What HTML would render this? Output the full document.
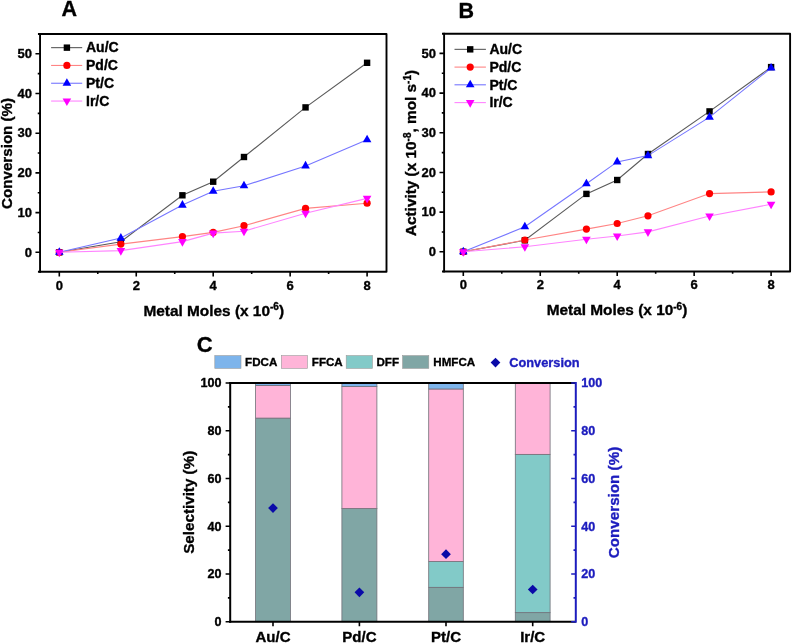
<!DOCTYPE html><html><head><meta charset="utf-8"><style>html,body{margin:0;padding:0;background:#fff;}svg{display:block;will-change:transform;filter:blur(0.3px);}text{font-family:"Liberation Sans", sans-serif;font-weight:bold;stroke-width:0.35px;}</style></head><body>
<svg width="792" height="643" viewBox="0 0 792 643">
<rect width="792" height="643" fill="#fff"/>
<text x="61.4" y="15.6" font-size="21.5" text-anchor="start" fill="#000" stroke="#000">A</text>
<text x="458.6" y="17.6" font-size="21.5" text-anchor="start" fill="#000" stroke="#000">B</text>
<text x="196.8" y="351.9" font-size="22" text-anchor="start" fill="#000" stroke="#000">C</text>
<path d="M37.95 34H386.5V271.8H37.95" fill="none" stroke="#000" stroke-width="1.9" stroke-linejoin="round"/>
<path d="M40.05 33.1V272.7" fill="none" stroke="#000" stroke-width="1.9"/>
<path d="M40.05 252.3H35.45M40.05 232.45H37.75M40.05 212.6H35.45M40.05 192.75H37.75M40.05 172.9H35.45M40.05 153.05H37.75M40.05 133.2H35.45M40.05 113.35H37.75M40.05 93.5H35.45M40.05 73.65H37.75M40.05 53.8H35.45M59.3 271.8V276.4M97.78 271.8V274.1M136.25 271.8V276.4M174.73 271.8V274.1M213.2 271.8V276.4M251.68 271.8V274.1M290.15 271.8V276.4M328.62 271.8V274.1M367.1 271.8V276.4" stroke="#000" stroke-width="1.6" fill="none"/>
<text x="32" y="256.5" font-size="13" text-anchor="end" fill="#000" stroke="#000">0</text>
<text x="32" y="216.8" font-size="13" text-anchor="end" fill="#000" stroke="#000">10</text>
<text x="32" y="177.1" font-size="13" text-anchor="end" fill="#000" stroke="#000">20</text>
<text x="32" y="137.4" font-size="13" text-anchor="end" fill="#000" stroke="#000">30</text>
<text x="32" y="97.7" font-size="13" text-anchor="end" fill="#000" stroke="#000">40</text>
<text x="32" y="58" font-size="13" text-anchor="end" fill="#000" stroke="#000">50</text>
<text x="59.3" y="290.3" font-size="13" text-anchor="middle" fill="#000" stroke="#000">0</text>
<text x="136.25" y="290.3" font-size="13" text-anchor="middle" fill="#000" stroke="#000">2</text>
<text x="213.2" y="290.3" font-size="13" text-anchor="middle" fill="#000" stroke="#000">4</text>
<text x="290.15" y="290.3" font-size="13" text-anchor="middle" fill="#000" stroke="#000">6</text>
<text x="367.1" y="290.3" font-size="13" text-anchor="middle" fill="#000" stroke="#000">8</text>
<text x="213.7" y="315.9" font-size="15.4" text-anchor="middle" stroke="#000">Metal Moles (x 10<tspan font-size="10" dy="-5.5">-6</tspan><tspan dy="5.5">)</tspan></text>
<text transform="translate(12 153.4) rotate(-90)" font-size="15.15" text-anchor="middle" stroke="#000">Conversion (%)</text>
<polyline points="59.3,252.3 120.86,241.7 182.42,195.3 213.2,181.7 243.98,157 305.54,107.4 367.1,62.8" fill="none" stroke="#5a5a5a" stroke-width="1.1"/>
<rect x="56.1" y="249.1" width="6.4" height="6.4" fill="#000000"/>
<rect x="117.66" y="238.5" width="6.4" height="6.4" fill="#000000"/>
<rect x="179.22" y="192.1" width="6.4" height="6.4" fill="#000000"/>
<rect x="210" y="178.5" width="6.4" height="6.4" fill="#000000"/>
<rect x="240.78" y="153.8" width="6.4" height="6.4" fill="#000000"/>
<rect x="302.34" y="104.2" width="6.4" height="6.4" fill="#000000"/>
<rect x="363.9" y="59.6" width="6.4" height="6.4" fill="#000000"/>
<polyline points="59.3,252.3 120.86,244.1 182.42,236.6 213.2,232.4 243.98,225.7 305.54,208.4 367.1,203.2" fill="none" stroke="#ff8484" stroke-width="1.1"/>
<circle cx="59.3" cy="252.3" r="3.6" fill="#ff0000"/>
<circle cx="120.86" cy="244.1" r="3.6" fill="#ff0000"/>
<circle cx="182.42" cy="236.6" r="3.6" fill="#ff0000"/>
<circle cx="213.2" cy="232.4" r="3.6" fill="#ff0000"/>
<circle cx="243.98" cy="225.7" r="3.6" fill="#ff0000"/>
<circle cx="305.54" cy="208.4" r="3.6" fill="#ff0000"/>
<circle cx="367.1" cy="203.2" r="3.6" fill="#ff0000"/>
<polyline points="59.3,252.3 120.86,238.1 182.42,205.1 213.2,191.3 243.98,185.8 305.54,165.9 367.1,139.8" fill="none" stroke="#7676ff" stroke-width="1.1"/>
<polygon points="59.3,247.23 63.6,254.83 55,254.83" fill="#0000ff"/>
<polygon points="120.86,233.03 125.16,240.63 116.56,240.63" fill="#0000ff"/>
<polygon points="182.42,200.03 186.72,207.63 178.12,207.63" fill="#0000ff"/>
<polygon points="213.2,186.23 217.5,193.83 208.9,193.83" fill="#0000ff"/>
<polygon points="243.98,180.73 248.28,188.33 239.68,188.33" fill="#0000ff"/>
<polygon points="305.54,160.83 309.84,168.43 301.24,168.43" fill="#0000ff"/>
<polygon points="367.1,134.73 371.4,142.33 362.8,142.33" fill="#0000ff"/>
<polyline points="59.3,252.3 120.86,250.6 182.42,241.6 213.2,233.1 243.98,231.2 305.54,213.2 367.1,198.4" fill="none" stroke="#ff84ff" stroke-width="1.1"/>
<polygon points="55,249.77 63.6,249.77 59.3,257.37" fill="#ff00ff"/>
<polygon points="116.56,248.07 125.16,248.07 120.86,255.67" fill="#ff00ff"/>
<polygon points="178.12,239.07 186.72,239.07 182.42,246.67" fill="#ff00ff"/>
<polygon points="208.9,230.57 217.5,230.57 213.2,238.17" fill="#ff00ff"/>
<polygon points="239.68,228.67 248.28,228.67 243.98,236.27" fill="#ff00ff"/>
<polygon points="301.24,210.67 309.84,210.67 305.54,218.27" fill="#ff00ff"/>
<polygon points="362.8,195.87 371.4,195.87 367.1,203.47" fill="#ff00ff"/>
<path d="M51.1 47.65H82.2" stroke="#5a5a5a" stroke-width="1.1"/>
<rect x="63.7" y="44.45" width="6.4" height="6.4" fill="#000000"/>
<text x="86" y="52.35" font-size="14" text-anchor="start" fill="#000" stroke="#000">Au/C</text>
<path d="M51.1 65.45H82.2" stroke="#ff8484" stroke-width="1.1"/>
<circle cx="66.9" cy="65.45" r="3.6" fill="#ff0000"/>
<text x="86" y="70.15" font-size="14" text-anchor="start" fill="#000" stroke="#000">Pd/C</text>
<path d="M51.1 83.25H82.2" stroke="#7676ff" stroke-width="1.1"/>
<polygon points="66.9,78.18 71.2,85.78 62.6,85.78" fill="#0000ff"/>
<text x="86" y="87.95" font-size="14" text-anchor="start" fill="#000" stroke="#000">Pt/C</text>
<path d="M51.1 101.05H82.2" stroke="#ff84ff" stroke-width="1.1"/>
<polygon points="62.6,98.52 71.2,98.52 66.9,106.12" fill="#ff00ff"/>
<text x="86" y="105.75" font-size="14" text-anchor="start" fill="#000" stroke="#000">Ir/C</text>
<path d="M442 33.7H790.1V271.5H442" fill="none" stroke="#000" stroke-width="1.9" stroke-linejoin="round"/>
<path d="M444.1 32.8V272.4" fill="none" stroke="#000" stroke-width="1.9"/>
<path d="M444.1 251.8H439.5M444.1 231.96H441.8M444.1 212.12H439.5M444.1 192.28H441.8M444.1 172.44H439.5M444.1 152.6H441.8M444.1 132.76H439.5M444.1 112.92H441.8M444.1 93.08H439.5M444.1 73.24H441.8M444.1 53.4H439.5M463.3 271.5V276.1M501.78 271.5V273.8M540.25 271.5V276.1M578.73 271.5V273.8M617.2 271.5V276.1M655.67 271.5V273.8M694.15 271.5V276.1M732.62 271.5V273.8M771.1 271.5V276.1" stroke="#000" stroke-width="1.6" fill="none"/>
<text x="436" y="256" font-size="13" text-anchor="end" fill="#000" stroke="#000">0</text>
<text x="436" y="216.32" font-size="13" text-anchor="end" fill="#000" stroke="#000">10</text>
<text x="436" y="176.64" font-size="13" text-anchor="end" fill="#000" stroke="#000">20</text>
<text x="436" y="136.96" font-size="13" text-anchor="end" fill="#000" stroke="#000">30</text>
<text x="436" y="97.28" font-size="13" text-anchor="end" fill="#000" stroke="#000">40</text>
<text x="436" y="57.6" font-size="13" text-anchor="end" fill="#000" stroke="#000">50</text>
<text x="463.3" y="289.4" font-size="13" text-anchor="middle" fill="#000" stroke="#000">0</text>
<text x="540.25" y="289.4" font-size="13" text-anchor="middle" fill="#000" stroke="#000">2</text>
<text x="617.2" y="289.4" font-size="13" text-anchor="middle" fill="#000" stroke="#000">4</text>
<text x="694.15" y="289.4" font-size="13" text-anchor="middle" fill="#000" stroke="#000">6</text>
<text x="771.1" y="289.4" font-size="13" text-anchor="middle" fill="#000" stroke="#000">8</text>
<text x="617" y="315.3" font-size="15.4" text-anchor="middle" stroke="#000">Metal Moles (x 10<tspan font-size="10" dy="-5.5">-6</tspan><tspan dy="5.5">)</tspan></text>
<text transform="translate(416 153) rotate(-90)" font-size="15.35" text-anchor="middle" stroke="#000">Activity (x 10<tspan font-size="10" dy="-5.5">-8</tspan><tspan dy="5.5">, mol s</tspan><tspan font-size="10" dy="-5.5">-1</tspan><tspan dy="5.5">)</tspan></text>
<polyline points="463.3,251.8 524.86,240.3 586.42,193.9 617.2,180 647.98,154 709.54,111.4 771.1,67.1" fill="none" stroke="#5a5a5a" stroke-width="1.1"/>
<rect x="460.1" y="248.6" width="6.4" height="6.4" fill="#000000"/>
<rect x="521.66" y="237.1" width="6.4" height="6.4" fill="#000000"/>
<rect x="583.22" y="190.7" width="6.4" height="6.4" fill="#000000"/>
<rect x="614" y="176.8" width="6.4" height="6.4" fill="#000000"/>
<rect x="644.78" y="150.8" width="6.4" height="6.4" fill="#000000"/>
<rect x="706.34" y="108.2" width="6.4" height="6.4" fill="#000000"/>
<rect x="767.9" y="63.9" width="6.4" height="6.4" fill="#000000"/>
<polyline points="463.3,251.8 524.86,240 586.42,229.1 617.2,223.5 647.98,215.8 709.54,193.6 771.1,191.9" fill="none" stroke="#ff8484" stroke-width="1.1"/>
<circle cx="463.3" cy="251.8" r="3.6" fill="#ff0000"/>
<circle cx="524.86" cy="240" r="3.6" fill="#ff0000"/>
<circle cx="586.42" cy="229.1" r="3.6" fill="#ff0000"/>
<circle cx="617.2" cy="223.5" r="3.6" fill="#ff0000"/>
<circle cx="647.98" cy="215.8" r="3.6" fill="#ff0000"/>
<circle cx="709.54" cy="193.6" r="3.6" fill="#ff0000"/>
<circle cx="771.1" cy="191.9" r="3.6" fill="#ff0000"/>
<polyline points="463.3,251.8 524.86,226.8 586.42,183.8 617.2,161.9 647.98,155.6 709.54,117.1 771.1,68" fill="none" stroke="#7676ff" stroke-width="1.1"/>
<polygon points="463.3,246.73 467.6,254.33 459,254.33" fill="#0000ff"/>
<polygon points="524.86,221.73 529.16,229.33 520.56,229.33" fill="#0000ff"/>
<polygon points="586.42,178.73 590.72,186.33 582.12,186.33" fill="#0000ff"/>
<polygon points="617.2,156.83 621.5,164.43 612.9,164.43" fill="#0000ff"/>
<polygon points="647.98,150.53 652.28,158.13 643.68,158.13" fill="#0000ff"/>
<polygon points="709.54,112.03 713.84,119.63 705.24,119.63" fill="#0000ff"/>
<polygon points="771.1,62.93 775.4,70.53 766.8,70.53" fill="#0000ff"/>
<polyline points="463.3,251.8 524.86,246.7 586.42,239.3 617.2,236 647.98,231.9 709.54,216 771.1,204.3" fill="none" stroke="#ff84ff" stroke-width="1.1"/>
<polygon points="459,249.27 467.6,249.27 463.3,256.87" fill="#ff00ff"/>
<polygon points="520.56,244.17 529.16,244.17 524.86,251.77" fill="#ff00ff"/>
<polygon points="582.12,236.77 590.72,236.77 586.42,244.37" fill="#ff00ff"/>
<polygon points="612.9,233.47 621.5,233.47 617.2,241.07" fill="#ff00ff"/>
<polygon points="643.68,229.37 652.28,229.37 647.98,236.97" fill="#ff00ff"/>
<polygon points="705.24,213.47 713.84,213.47 709.54,221.07" fill="#ff00ff"/>
<polygon points="766.8,201.77 775.4,201.77 771.1,209.37" fill="#ff00ff"/>
<path d="M454.5 49.35H485.9" stroke="#5a5a5a" stroke-width="1.1"/>
<rect x="467" y="46.15" width="6.4" height="6.4" fill="#000000"/>
<text x="489.4" y="54.15" font-size="14" text-anchor="start" fill="#000" stroke="#000">Au/C</text>
<path d="M454.5 67.1H485.9" stroke="#ff8484" stroke-width="1.1"/>
<circle cx="470.2" cy="67.1" r="3.6" fill="#ff0000"/>
<text x="489.4" y="71.9" font-size="14" text-anchor="start" fill="#000" stroke="#000">Pd/C</text>
<path d="M454.5 84.8H485.9" stroke="#7676ff" stroke-width="1.1"/>
<polygon points="470.2,79.73 474.5,87.33 465.9,87.33" fill="#0000ff"/>
<text x="489.4" y="89.6" font-size="14" text-anchor="start" fill="#000" stroke="#000">Pt/C</text>
<path d="M454.5 102.6H485.9" stroke="#ff84ff" stroke-width="1.1"/>
<polygon points="465.9,100.07 474.5,100.07 470.2,107.67" fill="#ff00ff"/>
<text x="489.4" y="107.4" font-size="14" text-anchor="start" fill="#000" stroke="#000">Ir/C</text>
<rect x="255.6" y="418.09" width="34.8" height="203.61" fill="#80a6a5" stroke="#707078" stroke-width="0.8"/>
<rect x="255.6" y="385.39" width="34.8" height="32.7" fill="#ffb4d8" stroke="#707078" stroke-width="0.8"/>
<rect x="255.6" y="383" width="34.8" height="2.39" fill="#7db4eb" stroke="#707078" stroke-width="0.8"/>
<rect x="341.9" y="508.56" width="35" height="113.14" fill="#80a6a5" stroke="#707078" stroke-width="0.8"/>
<rect x="341.9" y="386.58" width="35" height="121.98" fill="#ffb4d8" stroke="#707078" stroke-width="0.8"/>
<rect x="341.9" y="383" width="35" height="3.58" fill="#7db4eb" stroke="#707078" stroke-width="0.8"/>
<rect x="428.7" y="587.33" width="34.6" height="34.37" fill="#80a6a5" stroke="#707078" stroke-width="0.8"/>
<rect x="428.7" y="561.55" width="34.6" height="25.78" fill="#82cac8" stroke="#707078" stroke-width="0.8"/>
<rect x="428.7" y="388.97" width="34.6" height="172.58" fill="#ffb4d8" stroke="#707078" stroke-width="0.8"/>
<rect x="428.7" y="383" width="34.6" height="5.97" fill="#7db4eb" stroke="#707078" stroke-width="0.8"/>
<rect x="515.3" y="612.63" width="34.8" height="9.07" fill="#80a6a5" stroke="#707078" stroke-width="0.8"/>
<rect x="515.3" y="454.37" width="34.8" height="158.26" fill="#82cac8" stroke="#707078" stroke-width="0.8"/>
<rect x="515.3" y="383" width="34.8" height="71.37" fill="#ffb4d8" stroke="#707078" stroke-width="0.8"/>
<path d="M229.2 383H575.8" stroke="#000" stroke-width="2"/>
<path d="M229.2 621.7H575.8" stroke="#000" stroke-width="2"/>
<path d="M230.2 382V622.7" stroke="#000" stroke-width="2"/>
<path d="M575.8 382V622.7" stroke="#1c1cbe" stroke-width="2"/>
<path d="M230.2 621.7H225.6M230.2 597.83H227.9M230.2 573.96H225.6M230.2 550.09H227.9M230.2 526.22H225.6M230.2 502.35H227.9M230.2 478.48H225.6M230.2 454.61H227.9M230.2 430.74H225.6M230.2 406.87H227.9M230.2 383H225.6M273 621.7V626.3M359.4 621.7V626.3M446 621.7V626.3M532.7 621.7V626.3" stroke="#000" stroke-width="1.6" fill="none"/>
<path d="M575.8 621.7H571.2M575.8 597.83H573.5M575.8 573.96H571.2M575.8 550.09H573.5M575.8 526.22H571.2M575.8 502.35H573.5M575.8 478.48H571.2M575.8 454.61H573.5M575.8 430.74H571.2M575.8 406.87H573.5M575.8 383H571.2" stroke="#1c1cbe" stroke-width="1.6" fill="none"/>
<text x="221.6" y="626.1" font-size="12.6" text-anchor="end" fill="#000" stroke="#000">0</text>
<text x="581.3" y="626.1" font-size="12.6" text-anchor="start" fill="#1c1cbe" stroke="#1c1cbe">0</text>
<text x="221.6" y="578.36" font-size="12.6" text-anchor="end" fill="#000" stroke="#000">20</text>
<text x="581.3" y="578.36" font-size="12.6" text-anchor="start" fill="#1c1cbe" stroke="#1c1cbe">20</text>
<text x="221.6" y="530.62" font-size="12.6" text-anchor="end" fill="#000" stroke="#000">40</text>
<text x="581.3" y="530.62" font-size="12.6" text-anchor="start" fill="#1c1cbe" stroke="#1c1cbe">40</text>
<text x="221.6" y="482.88" font-size="12.6" text-anchor="end" fill="#000" stroke="#000">60</text>
<text x="581.3" y="482.88" font-size="12.6" text-anchor="start" fill="#1c1cbe" stroke="#1c1cbe">60</text>
<text x="221.6" y="435.14" font-size="12.6" text-anchor="end" fill="#000" stroke="#000">80</text>
<text x="581.3" y="435.14" font-size="12.6" text-anchor="start" fill="#1c1cbe" stroke="#1c1cbe">80</text>
<text x="221.6" y="387.4" font-size="12.6" text-anchor="end" fill="#000" stroke="#000">100</text>
<text x="581.3" y="387.4" font-size="12.6" text-anchor="start" fill="#1c1cbe" stroke="#1c1cbe">100</text>
<text x="273" y="642.2" font-size="15" text-anchor="middle" fill="#000" stroke="#000">Au/C</text>
<polygon points="273,503.23 277.85,508.08 273,512.93 268.15,508.08" fill="#0a0aa8"/>
<text x="359.4" y="642.2" font-size="15" text-anchor="middle" fill="#000" stroke="#000">Pd/C</text>
<polygon points="359.4,587.49 364.25,592.34 359.4,597.19 354.55,592.34" fill="#0a0aa8"/>
<text x="446" y="642.2" font-size="15" text-anchor="middle" fill="#000" stroke="#000">Pt/C</text>
<polygon points="446,549.3 450.85,554.15 446,559 441.15,554.15" fill="#0a0aa8"/>
<text x="532.7" y="642.2" font-size="15" text-anchor="middle" fill="#000" stroke="#000">Ir/C</text>
<polygon points="532.7,584.63 537.55,589.48 532.7,594.33 527.85,589.48" fill="#0a0aa8"/>
<text transform="translate(194.4 502.3) rotate(-90)" font-size="15.2" text-anchor="middle" stroke="#000">Selectivity (%)</text>
<text transform="translate(619 502.5) rotate(-90)" font-size="15.2" text-anchor="middle" fill="#1c1cbe" stroke="#1c1cbe">Conversion (%)</text>
<rect x="214.8" y="355.6" width="26.2" height="12.8" fill="#7db4eb" stroke="#9a9a9a" stroke-width="0.6"/>
<text x="245.1" y="366.2" font-size="11.6" text-anchor="start" fill="#000" stroke="#000">FDCA</text>
<rect x="281.3" y="355.6" width="26.2" height="12.8" fill="#ffb4d8" stroke="#9a9a9a" stroke-width="0.6"/>
<text x="311.8" y="366.2" font-size="11.6" text-anchor="start" fill="#000" stroke="#000">FFCA</text>
<rect x="346.2" y="355.6" width="26.2" height="12.8" fill="#82cac8" stroke="#9a9a9a" stroke-width="0.6"/>
<text x="376.5" y="366.2" font-size="11.6" text-anchor="start" fill="#000" stroke="#000">DFF</text>
<rect x="402.6" y="355.6" width="26.2" height="12.8" fill="#80a6a5" stroke="#9a9a9a" stroke-width="0.6"/>
<text x="433.3" y="366.2" font-size="11.6" text-anchor="start" fill="#000" stroke="#000">HMFCA</text>
<polygon points="495.5,357.75 500.35,362.6 495.5,367.45 490.65,362.6" fill="#0a0aa8"/>
<text x="509.2" y="366.7" font-size="12.8" text-anchor="start" fill="#1c1cbe" stroke="#1c1cbe">Conversion</text>
</svg></body></html>
